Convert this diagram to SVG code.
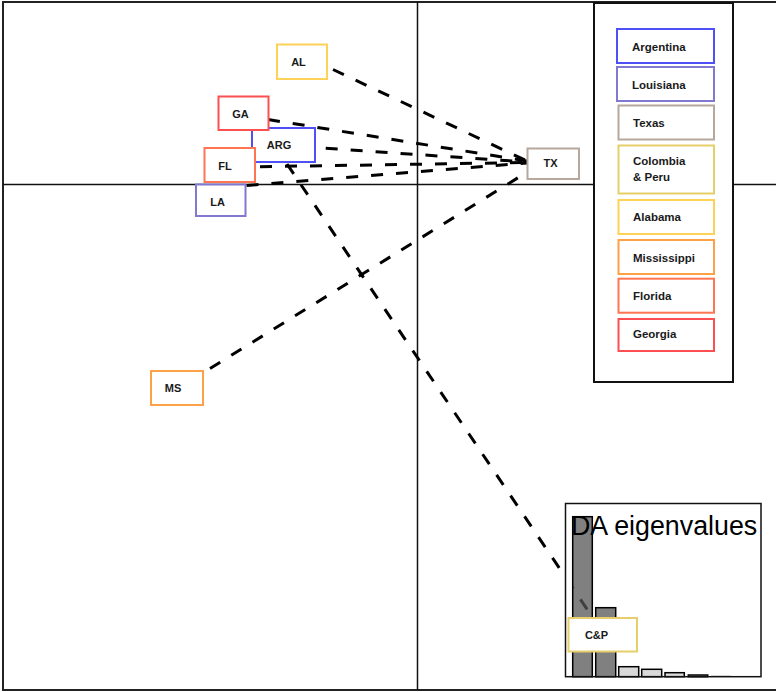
<svg xmlns="http://www.w3.org/2000/svg" width="776" height="692" viewBox="0 0 776 692">
<style>
.lbl{font-family:"Liberation Sans",Arial,sans-serif;font-weight:bold;font-size:11px;fill:#1a1a1a;text-anchor:middle}
.leg{font-family:"Liberation Sans",Arial,sans-serif;font-weight:bold;font-size:11.5px;fill:#1a1a1a}
.box{fill:#fff;stroke-width:2}
.dash{fill:none;stroke:#000;stroke-width:3;stroke-dasharray:12 13}
.bar{stroke:#000;stroke-width:1.5}
</style>
<rect width="776" height="692" fill="#fff"/>
<g id="frame">
<rect x="3" y="2" width="790" height="688" fill="none" stroke="#222" stroke-width="2"/>
<line x1="417.5" y1="2" x2="417.5" y2="690" stroke="#111" stroke-width="1.5"/>
<line x1="3" y1="184.5" x2="776" y2="184.5" stroke="#111" stroke-width="1.5"/>
</g>
<g id="connectors">
<line class="dash" x1="333" y1="69.5" x2="527" y2="161"/>
<line class="dash" x1="268" y1="119.5" x2="527" y2="161"/>
<line class="dash" x1="325.7" y1="148.3" x2="527" y2="162"/>
<line class="dash" x1="260" y1="166.7" x2="527" y2="162.5"/>
<line class="dash" x1="246.5" y1="185.5" x2="527" y2="163"/>
<line class="dash" x1="210" y1="368.5" x2="524" y2="174"/>
<line class="dash" x1="287" y1="164" x2="593" y2="618"/>
</g>
<g id="legend">
<rect x="594" y="3" width="139" height="379" fill="#fff" stroke="#111" stroke-width="2"/>
<rect class="box" x="617" y="29" width="97" height="34" stroke="#5050f8"/>
<text class="leg" x="632" y="50.5">Argentina</text>
<rect class="box" x="617" y="67" width="97" height="34" stroke="#8079cf"/>
<text class="leg" x="632" y="89">Louisiana</text>
<rect class="box" x="618.5" y="105.5" width="95.5" height="34" stroke="#b6a89c"/>
<text class="leg" x="633" y="127">Texas</text>
<rect class="box" x="618.5" y="145.5" width="95.5" height="48" stroke="#e6cf6a"/>
<text class="leg" x="633" y="165">Colombia</text>
<text class="leg" x="633" y="180.5">&amp; Peru</text>
<rect class="box" x="618.5" y="200" width="95.5" height="34" stroke="#fdd256"/>
<text class="leg" x="633" y="221">Alabama</text>
<rect class="box" x="618.5" y="240" width="95.5" height="34" stroke="#fca146"/>
<text class="leg" x="633" y="262">Mississippi</text>
<rect class="box" x="618.5" y="278.7" width="95.5" height="34" stroke="#fe7552"/>
<text class="leg" x="633" y="300">Florida</text>
<rect class="box" x="618.5" y="319" width="95.5" height="32" stroke="#fc4f52"/>
<text class="leg" x="633" y="338">Georgia</text>
</g>
<g id="eigenvalues">
<path d="M565.5 503.5H761V676.7H565.5Z M572.7 516.7V676.7H592.3V516.7Z" fill="#fff" fill-rule="evenodd"/>
<rect x="572.7" y="516.7" width="19.6" height="160" fill="#555" fill-opacity="0.75" class="bar"/>
<rect x="595.7" y="607.7" width="20" height="69" fill="#808080" class="bar"/>
<rect x="618.7" y="666.7" width="20" height="10" fill="#d9d9d9" class="bar"/>
<rect x="641.7" y="669.3" width="20" height="7.4" fill="#d9d9d9" class="bar"/>
<rect x="665" y="672.7" width="19.3" height="4" fill="#d9d9d9" class="bar"/>
<rect x="688.3" y="675" width="19.4" height="1.7" fill="#d9d9d9" class="bar"/>
<line x1="711" y1="676" x2="731" y2="676" stroke="#bbb" stroke-width="1"/>
<rect x="565.5" y="503.5" width="195.5" height="173.2" fill="none" stroke="#111" stroke-width="1.5"/>
<text x="571" y="535" font-family="Liberation Sans,Arial,sans-serif" font-size="26.8" fill="#000">DA eigenvalues</text>
</g>
<g id="node-AL"><rect class="box" x="277" y="44.5" width="50" height="34.5" stroke="#fdd256"/><text class="lbl" x="298.5" y="66">AL</text></g>
<g id="node-ARG"><rect class="box" x="252" y="128" width="63" height="34" stroke="#5050f8"/><text class="lbl" x="279" y="149">ARG</text></g>
<g id="node-GA"><rect class="box" x="218.5" y="96.5" width="50" height="33.5" stroke="#fc4f52"/><text class="lbl" x="240.5" y="118">GA</text></g>
<g id="node-FL"><rect class="box" x="204.5" y="148" width="50.5" height="34" stroke="#fe7552"/><text class="lbl" x="225" y="170">FL</text></g>
<g id="node-LA"><rect class="box" x="196" y="184.5" width="49.5" height="31.5" stroke="#8079cf"/><text class="lbl" x="217.5" y="206">LA</text></g>
<g id="node-TX"><rect class="box" x="527.5" y="148.5" width="51.5" height="30.5" stroke="#b6a89c"/><text class="lbl" x="550.5" y="167">TX</text></g>
<g id="node-MS"><rect class="box" x="151" y="371" width="52" height="34" stroke="#fca146"/><text class="lbl" x="173" y="392">MS</text></g>
<g id="node-CP"><rect class="box" x="568.5" y="618" width="68.5" height="33.5" stroke="#e6cf6a"/><text class="lbl" x="596.5" y="639">C&amp;P</text></g>
</svg>
